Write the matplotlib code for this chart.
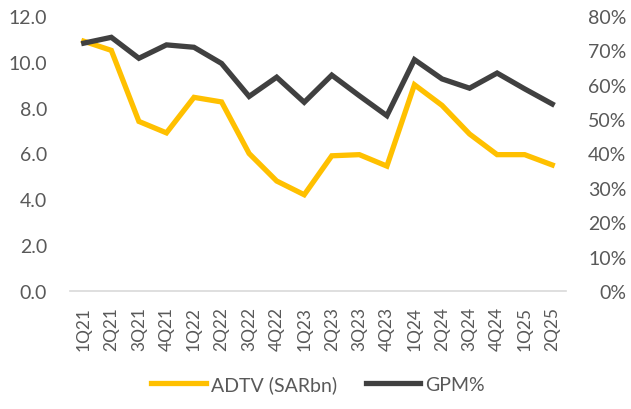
import matplotlib
matplotlib.use("Agg")
import matplotlib.pyplot as plt
from matplotlib.ticker import FuncFormatter

quarters = ["1Q21", "2Q21", "3Q21", "4Q21", "1Q22", "2Q22", "3Q22", "4Q22", "1Q23",
            "2Q23", "3Q23", "4Q23", "1Q24", "2Q24", "3Q24", "4Q24", "1Q25", "2Q25"]
adtv = [10.9, 10.5, 7.4, 6.9, 8.45, 8.25, 6.0, 4.8, 4.2,
        5.9, 5.95, 5.45, 9.0, 8.1, 6.85, 5.95, 5.95, 5.5]
gpm = [72.1, 73.8, 67.7, 71.6, 70.9, 66.2, 56.6, 62.2, 54.9,
       62.8, 56.8, 51.0, 67.3, 61.7, 59.0, 63.4, 58.8, 54.4]
left_ticks = [0, 2, 4, 6, 8, 10, 12]
right_ticks = [0, 10, 20, 30, 40, 50, 60, 70, 80]

plt.rcParams['font.family'] = ['Lato', 'DejaVu Sans']
txt = '#595959'

fig = plt.figure(figsize=(6.31, 4.10), dpi=100)
ax = fig.add_axes([70/631, 1-292/410, 496/631, 275/410])
ax2 = ax.twinx()

x = list(range(len(quarters)))
l1, = ax.plot(x, adtv, color='#FFC000', lw=3.8, solid_joinstyle='miter', label='ADTV (SARbn)')
l2, = ax2.plot(x, gpm, color='#404040', lw=3.8, solid_joinstyle='miter', label='GPM%')

ax.set_xlim(-0.5, len(quarters)-0.5)
ax.set_ylim(0, 12)
ax2.set_ylim(0, 80)
ax.set_yticks(left_ticks)
ax.yaxis.set_major_formatter(FuncFormatter(lambda v, p: f"{v:.1f}"))
ax2.set_yticks(right_ticks)
ax2.yaxis.set_major_formatter(FuncFormatter(lambda v, p: f"{int(v)}%"))
ax.set_xticks(x)
ax.set_xticklabels(quarters, rotation=90)

for a in (ax, ax2):
    for s in a.spines.values():
        s.set_visible(False)
    a.tick_params(length=0, labelsize=14, colors=txt)
ax.spines['bottom'].set_visible(True)
ax.spines['bottom'].set_color('#D9D9D9')
ax.spines['bottom'].set_linewidth(1.2)
ax.tick_params(axis='y', pad=16.5)
ax.tick_params(axis='x', pad=11, labelsize=12.5)
for lab in ax2.get_yticklabels():
    lab.set_horizontalalignment('right')
ax2.tick_params(axis='y', pad=43.5)

ax2.set_zorder(ax.get_zorder()+1)
ax2.patch.set_visible(False)

fig.legend(handles=[l1, l2], loc='center', bbox_to_anchor=(318/631, 1-385/410),
           ncol=2, frameon=False, fontsize=14, labelcolor=txt,
           handlelength=2.8, handletextpad=0.25, columnspacing=1.5)

fig.savefig('out.png', dpi=100)
